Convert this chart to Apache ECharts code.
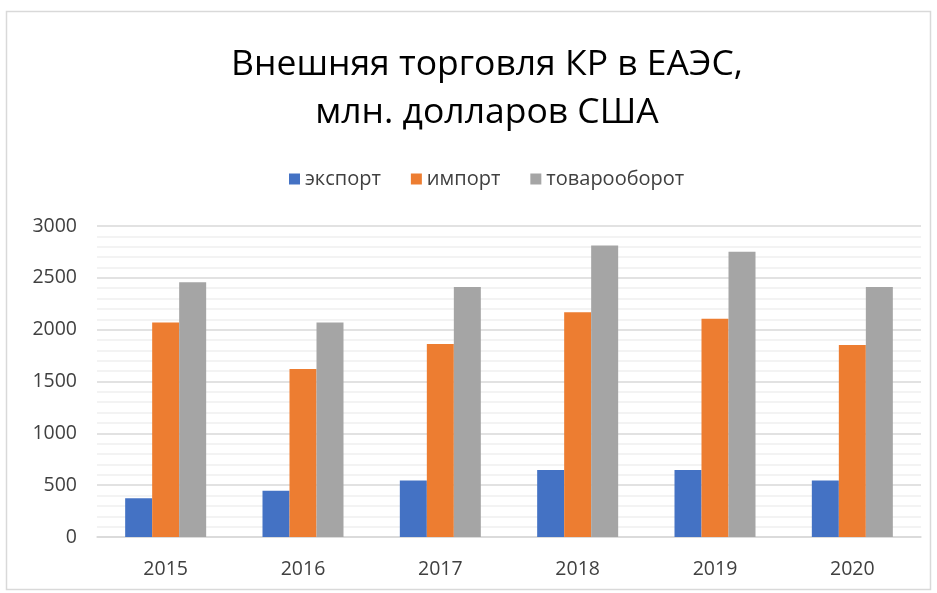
<!DOCTYPE html>
<html>
<head>
<meta charset="utf-8">
<script src="https://cdn.jsdelivr.net/npm/echarts@6/dist/echarts.min.js"></script>
<style>
  html, body { margin: 0; padding: 0; background: #fff; }
  #chart { width: 937px; height: 593px; }
</style>
</head>
<body>
<div id="chart"></div>
<script>
// data
var years = ["2015", "2016", "2017", "2018", "2019", "2020"];
var exportVals = [375, 447, 545, 647, 647, 545];
var importVals = [2070, 1620, 1862, 2167, 2106, 1852];
var turnoverVals = [2457, 2070, 2412, 2812, 2751, 2412];
var seriesNames = ["экспорт", "импорт", "товарооборот"];

var font = "'Open Sans', 'Noto Sans', sans-serif";
var chart = echarts.init(document.getElementById("chart"));

function bar(name, data, color) {
  return {
    name: name,
    type: "bar",
    data: data,
    barWidth: 27,
    barGap: "0%",
    itemStyle: { color: color }
  };
}

chart.setOption({
  animation: false,
  title: {
    text: "Внешняя торговля КР в ЕАЭС,\nмлн. долларов США",
    left: 482,
    textAlign: "center",
    top: 36,
    textStyle: {
      fontFamily: font,
      fontWeight: "normal",
      fontSize: 35.5,
      lineHeight: 48,
      color: "#000"
    }
  },
  legend: {
    data: seriesNames,
    top: 164,
    left: 284,
    itemWidth: 11,
    itemHeight: 11,
    itemGap: 30,
    icon: "rect",
    textStyle: { fontFamily: font, fontSize: 20, color: "#404040" }
  },
  grid: { left: 97, right: 16, top: 226, bottom: 56 },
  xAxis: {
    type: "category",
    data: years,
    axisTick: { show: false },
    axisLine: { lineStyle: { color: "#D9D9D9", width: 1.5 } },
    axisLabel: { fontFamily: font, fontSize: 19.5, color: "#404040", margin: 22 }
  },
  yAxis: {
    type: "value",
    min: 0,
    max: 3000,
    interval: 500,
    axisLine: { show: false },
    axisTick: { show: false },
    axisLabel: {
      fontFamily: font, fontSize: 19.5, color: "#404040", margin: 20,
      formatter: function (v) { return String(v); }
    },
    splitLine: { lineStyle: { color: "#D9D9D9", width: 1.5 } },
    minorTick: { show: false, splitNumber: 5 },
    minorSplitLine: { show: true, lineStyle: { color: "#F0F0F0", width: 1.5 } }
  },
  graphic: [{
    type: "rect",
    shape: { x: 6.5, y: 11.5, width: 924, height: 578 },
    style: { fill: "none", stroke: "#D9D9D9", lineWidth: 1.5 },
    silent: true
  }],
  series: [
    bar(seriesNames[0], exportVals, "#4472C4"),
    bar(seriesNames[1], importVals, "#ED7D31"),
    bar(seriesNames[2], turnoverVals, "#A5A5A5")
  ]
});
</script>
</body>
</html>
